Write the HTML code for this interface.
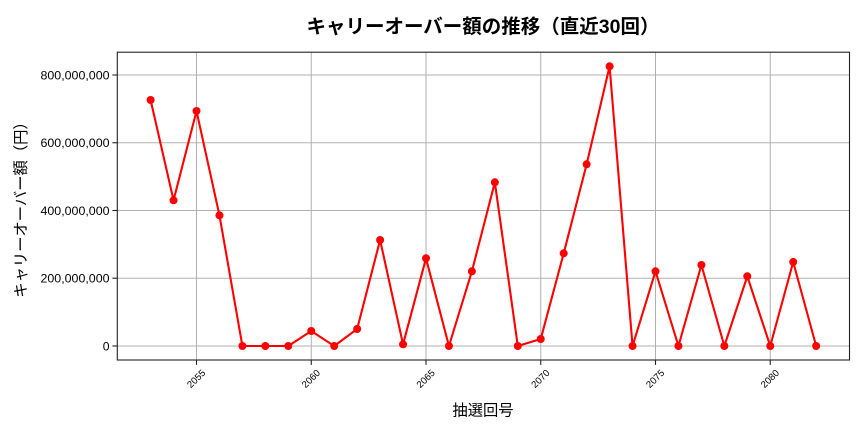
<!DOCTYPE html>
<html>
<head>
<meta charset="utf-8">
<style>
  html, body { margin: 0; padding: 0; background: #ffffff; }
  body { width: 864px; height: 432px; overflow: hidden; }
  svg { display: block; }
  .t { font-family: "Liberation Sans", "Noto Sans CJK JP", sans-serif; fill: #000; }
  .cjk { font-family: "Liberation Sans", "Noto Sans CJK JP", sans-serif; fill: #000; }
</style>
</head>
<body>
<svg width="864" height="432" viewBox="0 0 864 432" xmlns="http://www.w3.org/2000/svg">
  <rect x="0" y="0" width="864" height="432" fill="#ffffff"/>

  <!-- grid -->
  <g stroke="#b0b0b0" stroke-width="1" fill="none">
    <line x1="196.5" y1="52.2" x2="196.5" y2="360"/>
    <line x1="311.25" y1="52.2" x2="311.25" y2="360"/>
    <line x1="426" y1="52.2" x2="426" y2="360"/>
    <line x1="540.75" y1="52.2" x2="540.75" y2="360"/>
    <line x1="655.5" y1="52.2" x2="655.5" y2="360"/>
    <line x1="770.25" y1="52.2" x2="770.25" y2="360"/>
    <line x1="117.3" y1="75" x2="849.5" y2="75"/>
    <line x1="117.3" y1="142.75" x2="849.5" y2="142.75"/>
    <line x1="117.3" y1="210.5" x2="849.5" y2="210.5"/>
    <line x1="117.3" y1="278.25" x2="849.5" y2="278.25"/>
    <line x1="117.3" y1="346" x2="849.5" y2="346"/>
  </g>

  <!-- series -->
  <polyline fill="none" stroke="#ff0000" stroke-width="2.1" stroke-linejoin="round"
    points="150.6,100 173.55,200.3 196.5,111 219.45,215.3 242.4,346 265.35,346 288.3,346 311.25,331 334.2,346 357.15,329 380.1,240 403.05,344.3 426,258.3 448.95,346 471.9,271.3 494.85,182.3 517.8,346 540.75,339 563.7,253.3 586.65,164.3 609.6,66.3 632.55,346 655.5,271.3 678.45,346 701.4,265 724.35,346 747.3,276.3 770.25,346 793.2,262 816.15,346"/>
  <g fill="#ff0000">
    <circle cx="150.6" cy="100" r="4"/>
    <circle cx="173.55" cy="200.3" r="4"/>
    <circle cx="196.5" cy="111" r="4"/>
    <circle cx="219.45" cy="215.3" r="4"/>
    <circle cx="242.4" cy="346" r="4"/>
    <circle cx="265.35" cy="346" r="4"/>
    <circle cx="288.3" cy="346" r="4"/>
    <circle cx="311.25" cy="331" r="4"/>
    <circle cx="334.2" cy="346" r="4"/>
    <circle cx="357.15" cy="329" r="4"/>
    <circle cx="380.1" cy="240" r="4"/>
    <circle cx="403.05" cy="344.3" r="4"/>
    <circle cx="426" cy="258.3" r="4"/>
    <circle cx="448.95" cy="346" r="4"/>
    <circle cx="471.9" cy="271.3" r="4"/>
    <circle cx="494.85" cy="182.3" r="4"/>
    <circle cx="517.8" cy="346" r="4"/>
    <circle cx="540.75" cy="339" r="4"/>
    <circle cx="563.7" cy="253.3" r="4"/>
    <circle cx="586.65" cy="164.3" r="4"/>
    <circle cx="609.6" cy="66.3" r="4"/>
    <circle cx="632.55" cy="346" r="4"/>
    <circle cx="655.5" cy="271.3" r="4"/>
    <circle cx="678.45" cy="346" r="4"/>
    <circle cx="701.4" cy="265" r="4"/>
    <circle cx="724.35" cy="346" r="4"/>
    <circle cx="747.3" cy="276.3" r="4"/>
    <circle cx="770.25" cy="346" r="4"/>
    <circle cx="793.2" cy="262" r="4"/>
    <circle cx="816.15" cy="346" r="4"/>
  </g>

  <!-- axes frame -->
  <rect x="117.3" y="52.2" width="732.2" height="307.8" fill="none" stroke="#222" stroke-width="1.1"/>

  <!-- ticks -->
  <g stroke="#222" stroke-width="1.1">
    <line x1="112.4" y1="75" x2="117.3" y2="75"/>
    <line x1="112.4" y1="142.75" x2="117.3" y2="142.75"/>
    <line x1="112.4" y1="210.5" x2="117.3" y2="210.5"/>
    <line x1="112.4" y1="278.25" x2="117.3" y2="278.25"/>
    <line x1="112.4" y1="346" x2="117.3" y2="346"/>
    <line x1="196.5" y1="360" x2="196.5" y2="364.9"/>
    <line x1="311.25" y1="360" x2="311.25" y2="364.9"/>
    <line x1="426" y1="360" x2="426" y2="364.9"/>
    <line x1="540.75" y1="360" x2="540.75" y2="364.9"/>
    <line x1="655.5" y1="360" x2="655.5" y2="364.9"/>
    <line x1="770.25" y1="360" x2="770.25" y2="364.9"/>
  </g>

  <!-- y tick labels -->
  <g class="t" font-size="12.2" text-anchor="end">
    <text x="109.5" y="79.4" textLength="69" lengthAdjust="spacingAndGlyphs">800,000,000</text>
    <text x="109.5" y="147.15" textLength="69" lengthAdjust="spacingAndGlyphs">600,000,000</text>
    <text x="109.5" y="214.9" textLength="69" lengthAdjust="spacingAndGlyphs">400,000,000</text>
    <text x="109.5" y="282.65" textLength="69" lengthAdjust="spacingAndGlyphs">200,000,000</text>
    <text x="109.5" y="350.4">0</text>
  </g>

  <!-- x tick labels (rotated 45) -->
  <g class="t" font-size="9.6" text-anchor="middle">
    <text x="196" y="382" transform="rotate(-45 196 378.5)">2055</text>
    <text x="310.75" y="382" transform="rotate(-45 310.75 378.5)">2060</text>
    <text x="425.5" y="382" transform="rotate(-45 425.5 378.5)">2065</text>
    <text x="540.25" y="382" transform="rotate(-45 540.25 378.5)">2070</text>
    <text x="655" y="382" transform="rotate(-45 655 378.5)">2075</text>
    <text x="769.75" y="382" transform="rotate(-45 769.75 378.5)">2080</text>
  </g>

  <!-- title -->
  <text class="cjk" x="483" y="33" font-size="19.5" font-weight="bold" text-anchor="middle">キャリーオーバー額の推移（直近30回）</text>

  <!-- x label -->
  <text class="cjk" x="483" y="415.5" font-size="15.3" text-anchor="middle">抽選回号</text>

  <!-- y label -->
  <text class="cjk" x="26" y="206" font-size="15.3" text-anchor="middle" transform="rotate(-90 26 206)">キャリーオーバー額（円）</text>
</svg>
</body>
</html>
